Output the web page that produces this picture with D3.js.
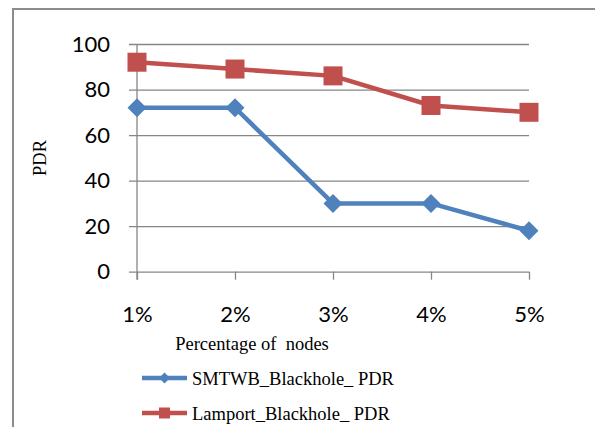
<!DOCTYPE html>
<html>
<head>
<meta charset="utf-8">
<script src="https://cdn.jsdelivr.net/npm/d3@7"></script>
<style>
  html, body { margin: 0; padding: 0; background: #fff; }
  svg { display: block; }
</style>
</head>
<body>
<svg id="chart" width="595" height="427"></svg>
<script>
// Packet delivery ratio by share of malicious nodes
const categories = ["1%", "2%", "3%", "4%", "5%"];
const smtwbPdr = [72, 72, 30, 30, 18];
const lamportPdr = [92, 89, 86, 73, 70];
const yTicks = [0, 20, 40, 60, 80, 100];
const seriesNames = ["SMTWB_Blackhole_ PDR", "Lamport_Blackhole_ PDR"];
const seriesColors = ["#4F81BD", "#C0504D"];

const svg = d3.select("#chart");
const sansFont = "Lato, 'Open Sans', sans-serif";
const serifFont = "'Liberation Serif', 'Times New Roman', 'DejaVu Serif', serif";

// Chart frame
svg.append("rect")
  .attr("x", 13).attr("y", 9)
  .attr("width", 600).attr("height", 440)
  .attr("fill", "#fff")
  .attr("stroke", "#8c8c8c")
  .attr("stroke-width", 2);

const x = d3.scalePoint().domain(categories).range([137, 529]);
const y = d3.scaleLinear().domain([0, 100]).range([271.7, 44]);
const gridLeft = 129;

// Horizontal gridlines with value labels
const yAxis = svg.append("g")
  .attr("transform", `translate(${gridLeft},0)`)
  .call(d3.axisLeft(y).tickValues(yTicks).tickSize(-(529 - gridLeft)).tickPadding(19));
yAxis.select(".domain").remove();
yAxis.selectAll(".tick line").attr("stroke", "#868686").attr("stroke-width", 1.3);
yAxis.selectAll(".tick text")
  .attr("font-family", sansFont)
  .attr("font-size", 22)
  .attr("fill", "#000");

// Vertical axis line
svg.append("line")
  .attr("x1", x(categories[0])).attr("x2", x(categories[0]))
  .attr("y1", y(100)).attr("y2", y(0) + 8)
  .attr("stroke", "#868686").attr("stroke-width", 1.3);

// Category axis
const xAxis = svg.append("g")
  .attr("transform", `translate(0,${y(0)})`)
  .call(d3.axisBottom(x).tickSize(8).tickSizeOuter(0));
xAxis.select(".domain").remove();
xAxis.selectAll(".tick line").attr("stroke", "#868686").attr("stroke-width", 1.3);
xAxis.selectAll(".tick text")
  .attr("y", 50).attr("dy", null)
  .attr("font-family", sansFont)
  .attr("font-size", 22)
  .attr("fill", "#000");

// Axis titles
svg.append("text")
  .attr("x", 252).attr("y", 350)
  .attr("text-anchor", "middle")
  .attr("font-family", serifFont)
  .attr("font-size", 18.5)
  .attr("xml:space", "preserve")
  .text("Percentage of  nodes");

svg.append("text")
  .attr("transform", "translate(46,158) rotate(-90)")
  .attr("text-anchor", "middle")
  .attr("font-family", serifFont)
  .attr("font-size", 18.5)
  .text("PDR");

// Series lines and markers
const line = d3.line()
  .x((d, i) => x(categories[i]))
  .y(d => y(d));

function drawDiamond(g, cx, cy, r, color) {
  g.append("path")
    .attr("d", `M${cx},${cy - r}L${cx + r},${cy}L${cx},${cy + r}L${cx - r},${cy}Z`)
    .attr("fill", color);
}
function drawSquare(g, cx, cy, s, color) {
  g.append("rect")
    .attr("x", cx - s / 2).attr("y", cy - s / 2)
    .attr("width", s).attr("height", s)
    .attr("fill", color);
}

const series = [smtwbPdr, lamportPdr];
series.forEach((vals, si) => {
  const g = svg.append("g");
  g.append("path")
    .datum(vals)
    .attr("d", line)
    .attr("fill", "none")
    .attr("stroke", seriesColors[si])
    .attr("stroke-width", 4.5)
    .attr("stroke-linejoin", "round");
  vals.forEach((v, i) => {
    if (si === 0) drawDiamond(g, x(categories[i]), y(v), 9.5, seriesColors[si]);
    else drawSquare(g, x(categories[i]), y(v), 19, seriesColors[si]);
  });
});

// Legend
const legendRows = [378, 413];
legendRows.forEach((ly, si) => {
  const g = svg.append("g");
  g.append("line")
    .attr("x1", 142).attr("x2", 187)
    .attr("y1", ly).attr("y2", ly)
    .attr("stroke", seriesColors[si])
    .attr("stroke-width", 4.5);
  if (si === 0) drawDiamond(g, 164.5, ly, 5.5, seriesColors[si]);
  else drawSquare(g, 164.5, ly, 11, seriesColors[si]);
  g.append("text")
    .attr("x", 192).attr("y", ly + 7)
    .attr("font-family", serifFont)
    .attr("font-size", 18.5)
    .text(seriesNames[si]);
});
</script>
</body>
</html>
